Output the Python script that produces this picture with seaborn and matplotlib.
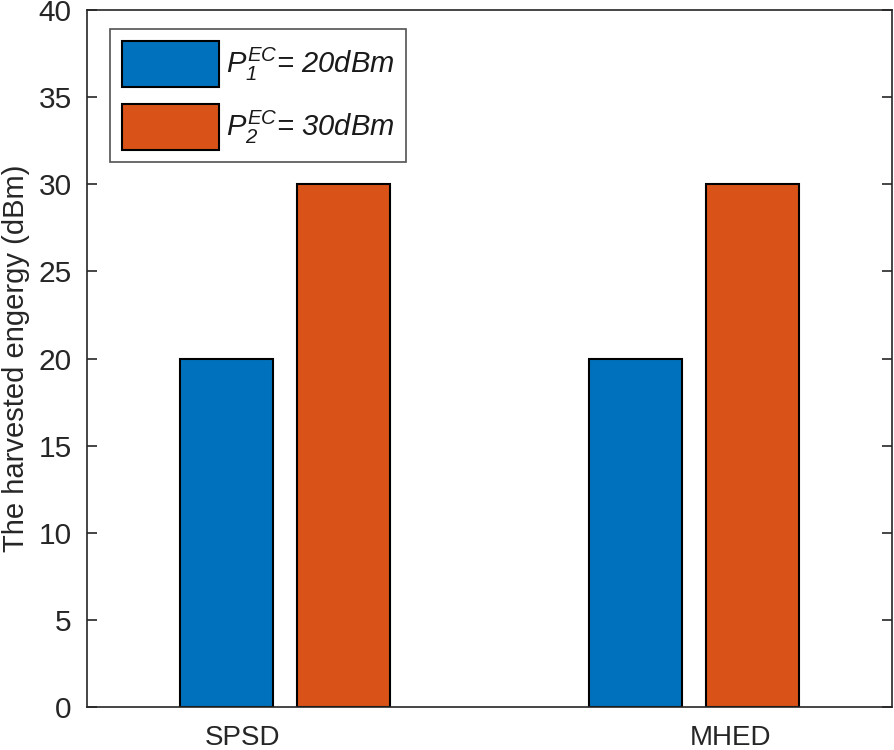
import matplotlib
matplotlib.use("Agg")
import matplotlib.pyplot as plt
import seaborn as sns
import pandas as pd

categories = ["SPSD", "MHED"]
p1_values = [20, 20]
p2_values = [30, 30]
series_labels = [r"$P_{1}^{EC}$= 20dBm", r"$P_{2}^{EC}$= 30dBm"]
y_ticks = [0, 5, 10, 15, 20, 25, 30, 35, 40]

sns.set_theme(style="white")
plt.rcParams["font.family"] = ["Liberation Sans", "DejaVu Sans"]
plt.rcParams["mathtext.fontset"] = "custom"
plt.rcParams["mathtext.it"] = "Liberation Sans:italic"
plt.rcParams["mathtext.rm"] = "Liberation Sans:italic"
plt.rcParams["mathtext.default"] = "it"

df = pd.DataFrame({
    "cat": categories * 2,
    "val": p1_values + p2_values,
    "series": [series_labels[0]] * len(categories) + [series_labels[1]] * len(categories),
})

fig = plt.figure(figsize=(8.94, 7.5), dpi=100)
ax = fig.add_axes([87 / 894, 1 - 707 / 750, (892 - 87) / 894, (707 - 10) / 750])

sns.barplot(data=df, x="cat", y="val", hue="series", order=categories,
            hue_order=series_labels, palette=["#0072BD", "#D95319"],
            width=0.572, gap=0.2, edgecolor="black", linewidth=1.5,
            saturation=1, ax=ax)

ax.set_xlim(-0.484, 1.484)
ax.set_ylim(0, 40)
ax.set_yticks(y_ticks)
# label positions in the reference are slightly offset from the group centres
ax.set_xticks([-0.104, 1.090], categories)
ax.set_xlabel("")
ax.set_ylabel("The harvested engergy (dBm)", fontsize=21, color="#262626", labelpad=6)
ax.tick_params(axis="y", direction="in", length=7, width=1.2, colors="#262626",
               labelsize=21.5, right=True, left=True, pad=11)
ax.tick_params(axis="x", length=0, colors="#262626", labelsize=20, pad=13,
               top=False, bottom=False)
for s in ax.spines.values():
    s.set_color("#262626")
    s.set_linewidth(1.2)

leg = ax.legend(loc="upper left", bbox_to_anchor=(23 / 805, 1 - 19 / 697),
                fontsize=21, handlelength=3.3, handleheight=2.05,
                fancybox=False, frameon=True, edgecolor="#262626",
                borderaxespad=0, borderpad=0.42, labelspacing=0.56,
                handletextpad=0.25)
leg.get_frame().set_linewidth(1.2)
for t in leg.get_texts():
    t.set_fontstyle("italic")
    t.set_color("#1a1a1a")

fig.savefig("out.png", dpi=100)
